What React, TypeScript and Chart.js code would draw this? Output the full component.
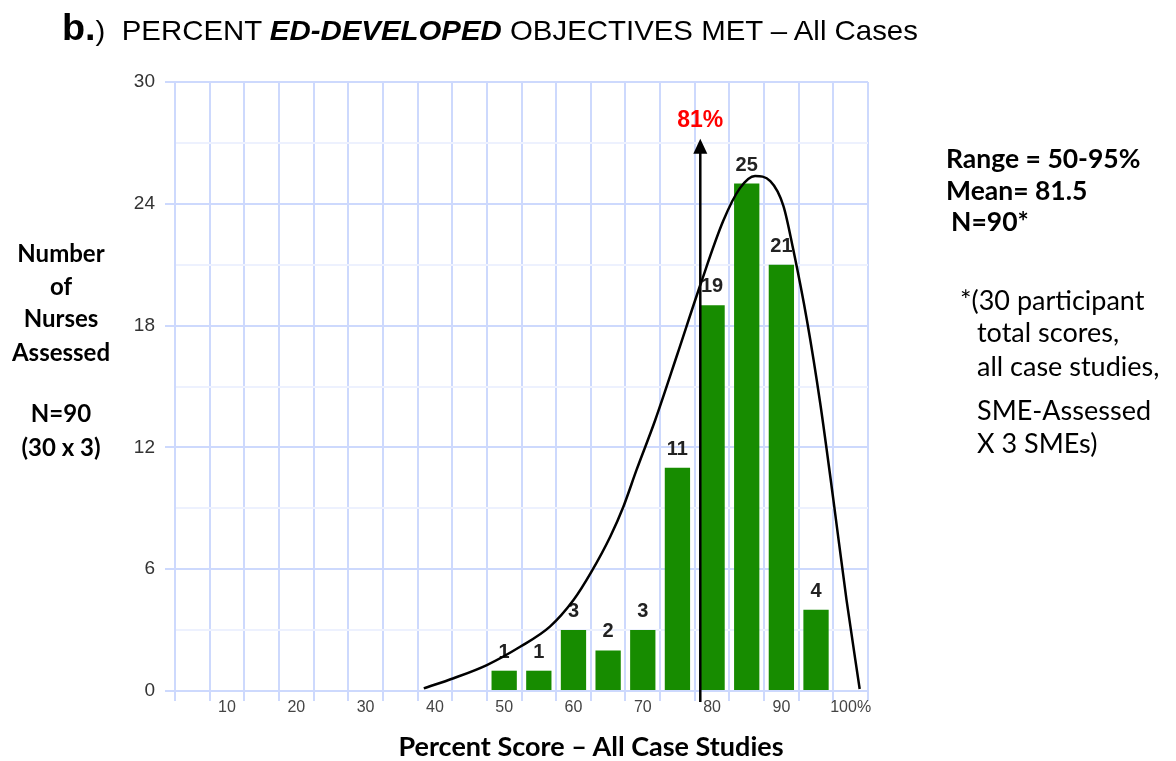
import React, { useEffect, useRef } from 'react';
import { Chart, registerables } from 'chart.js';

Chart.register(...registerables);

// ---- data ----
const categories = ['0-5', '5-10', '10-15', '15-20', '20-25', '25-30', '30-35', '35-40', '40-45', '45-50',
  '50-55', '55-60', '60-65', '65-70', '70-75', '75-80', '80-85', '85-90', '90-95', '95-100'];
const tickLabels = ['', '10', '', '20', '', '30', '', '40', '', '50', '', '60', '', '70', '', '80', '', '90', '', '100%'];
const counts = [0, 0, 0, 0, 0, 0, 0, 0, 0, 1, 1, 3, 2, 3, 11, 19, 25, 21, 4, 0];
const curveX = [35.9, 40.2, 45.0, 49.8, 54.1, 57.5, 60.1, 62.8, 64.7, 66.6, 69.3, 72.5, 75.8, 79.1, 81.5, 83.7, 85.9, 87.8, 89.2, 91.2, 93.1, 95.0, 96.9, 98.8];
const curveY = [0.13, 0.63, 1.28, 2.18, 3.17, 4.48, 5.88, 7.6, 9.08, 10.89, 13.35, 16.6, 20.0, 23.15, 24.76, 25.37, 25.12, 23.89, 21.77, 18.24, 14.19, 9.43, 4.49, 0.1];
const arrowPct = 75.8;
const arrowTop = 27.2;
const arrowLabel = '81%';
const yTicksMajor = 6;

const W = 1176;
const H = 761;

const annotPlugin = {
  id: 'annot',
  afterDatasetDraw(chart: any, args: any) {
    if (args.index !== 0) return;
    const ctx = chart.ctx;
    const meta = chart.getDatasetMeta(0);
    ctx.save();
    ctx.font = 'bold 20px "Liberation Sans", Arial, sans-serif';
    ctx.fillStyle = '#222';
    ctx.textAlign = 'center';
    ctx.textBaseline = 'alphabetic';
    meta.data.forEach((el: any, i: number) => {
      const v = counts[i];
      if (!v) return;
      ctx.fillText(String(v), el.x, el.y - 13);
    });
    ctx.restore();
  },
  afterDraw(chart: any) {
    const ctx = chart.ctx;
    const xs = chart.scales.xl;
    const ys = chart.scales.y;
    const x = xs.getPixelForValue(arrowPct);
    const yTop = ys.getPixelForValue(arrowTop);
    const yBot = ys.getPixelForValue(0) + 11;
    ctx.save();
    ctx.strokeStyle = '#000';
    ctx.lineWidth = 2.5;
    ctx.beginPath();
    ctx.moveTo(x, yBot);
    ctx.lineTo(x, yTop + 10);
    ctx.stroke();
    ctx.beginPath();
    ctx.moveTo(x, yTop);
    ctx.lineTo(x - 7, yTop + 15);
    ctx.lineTo(x + 7, yTop + 15);
    ctx.closePath();
    ctx.fillStyle = '#000';
    ctx.fill();
    ctx.font = 'bold 23px "Liberation Sans", Arial, sans-serif';
    ctx.fillStyle = '#ff0000';
    ctx.textAlign = 'center';
    ctx.textBaseline = 'alphabetic';
    ctx.fillText(arrowLabel, x, yTop - 12);
    ctx.restore();
  },
};

const abs = (left: number, top: number, extra: React.CSSProperties = {}): React.CSSProperties => ({
  position: 'absolute',
  left,
  top,
  whiteSpace: 'nowrap',
  ...extra,
});

export default function App() {
  const ref = useRef<HTMLCanvasElement | null>(null);

  useEffect(() => {
    if (!ref.current) return;
    const gridMajor = '#cdd9fd';
    const gridMinor = '#edf1fe';
    const chart = new Chart(ref.current, {
      type: 'bar',
      data: {
        labels: categories,
        datasets: [
          {
            type: 'bar',
            data: counts,
            backgroundColor: '#178c00',
            borderWidth: 0,
            barPercentage: 0.73,
            categoryPercentage: 1,
            grouped: false,
            order: 2,
            xAxisID: 'x',
          } as any,
          {
            type: 'line',
            data: curveX.map((x, i) => ({ x, y: curveY[i] })),
            borderColor: '#000',
            borderWidth: 2.5,
            pointRadius: 0,
            cubicInterpolationMode: 'monotone',
            fill: false,
            order: 1,
            xAxisID: 'xl',
          } as any,
        ],
      },
      options: {
        animation: false,
        responsive: false,
        devicePixelRatio: 1,
        layout: { padding: { left: 0, right: W - 868, top: 82, bottom: 0 } },
        plugins: { legend: { display: false }, tooltip: { enabled: false } },
        scales: {
          x: {
            type: 'category',
            offset: true,
            grid: { offset: true, color: gridMajor, lineWidth: 2, tickLength: 10, tickColor: gridMajor },
            border: { color: gridMajor, width: 2 },
            ticks: {
              autoSkip: false,
              maxRotation: 0,
              minRotation: 0,
              padding: -3,
              color: '#444',
              font: { family: '"Liberation Sans", Arial, sans-serif', size: 16 },
              callback: (_v: any, i: number) => tickLabels[i],
            },
            afterFit: (s: any) => { s.height = H - 691; },
          },
          xl: {
            type: 'linear',
            display: false,
            offset: false,
            grid: { offset: false },
            min: 0,
            max: 100,
            position: 'bottom',
          },
          y: {
            min: 0,
            max: 30,
            grid: {
              color: (c: any) => (c.tick && c.tick.value % yTicksMajor === 0 ? gridMajor : gridMinor),
              tickColor: (c: any) => (c.tick && c.tick.value % yTicksMajor === 0 ? gridMajor : 'rgba(0,0,0,0)'),
              lineWidth: 2,
              tickLength: 10,
            },
            border: { color: gridMajor, width: 2 },
            ticks: {
              stepSize: 3,
              padding: 10,
              color: '#333',
              font: { family: '"Liberation Sans", Arial, sans-serif', size: 19 },
              callback: (v: any) => (Number(v) % yTicksMajor === 0 ? String(v) : ''),
            },
            afterFit: (s: any) => { s.width = 175; },
          },
        },
      },
      plugins: [annotPlugin],
    });
    return () => chart.destroy();
  }, []);

  const calibri = '"Lato", "Carlito", "Noto Sans", sans-serif';
  const arial = '"Liberation Sans", Arial, sans-serif';
  const leftLine = (text: string, cy: number) => (
    <div style={abs(0, cy - 16, { width: 122, textAlign: 'center', fontFamily: calibri, fontWeight: 700, fontSize: 24, lineHeight: '32px', color: '#000' })}>{text}</div>
  );
  const rightLine = (text: string, left: number, cy: number, bold: boolean) => (
    <div style={abs(left, cy - 16, { fontFamily: calibri, fontWeight: bold ? 700 : 400, fontSize: bold ? 26.5 : 27, lineHeight: '32px', color: '#000' })}>{text}</div>
  );

  return (
    <div style={{ position: 'absolute', left: 0, top: 0, width: W, height: H, background: '#fff', overflow: 'hidden' }}>
      <canvas ref={ref} width={W} height={H} style={{ position: 'absolute', left: 0, top: 0, width: W, height: H }} />
      <div style={abs(62, 8, { fontFamily: arial, fontSize: 28, lineHeight: '40px', color: '#000', transform: 'scaleX(1.05)', transformOrigin: 'left center' })}>
        <span style={{ fontWeight: 700, fontSize: 36 }}>b.</span>
        <span>)&nbsp; PERCENT </span>
        <span style={{ fontWeight: 700, fontStyle: 'italic' }}>ED-DEVELOPED</span>
        <span> OBJECTIVES MET – All Cases</span>
      </div>
      {leftLine('Number', 253)}
      {leftLine('of', 286)}
      {leftLine('Nurses', 318)}
      {leftLine('Assessed', 352)}
      {leftLine('N=90', 413)}
      {leftLine('(30 x 3)', 447)}
      {rightLine('Range = 50-95%', 946, 158, true)}
      {rightLine('Mean= 81.5', 946, 190, true)}
      {rightLine(' N=90*', 951, 221, true)}
      {rightLine('*(30 participant', 960, 300, false)}
      {rightLine('total scores,', 977, 332, false)}
      {rightLine('all case studies,', 977, 366, false)}
      {rightLine('SME-Assessed', 977, 410, false)}
      {rightLine('X 3 SMEs)', 977, 443, false)}
      <div style={abs(591, 746 - 17, { transform: 'translateX(-50%)', fontFamily: calibri, fontWeight: 700, fontSize: 27, lineHeight: '34px', color: '#000' })}>
        Percent Score – All Case Studies
      </div>
    </div>
  );
}
